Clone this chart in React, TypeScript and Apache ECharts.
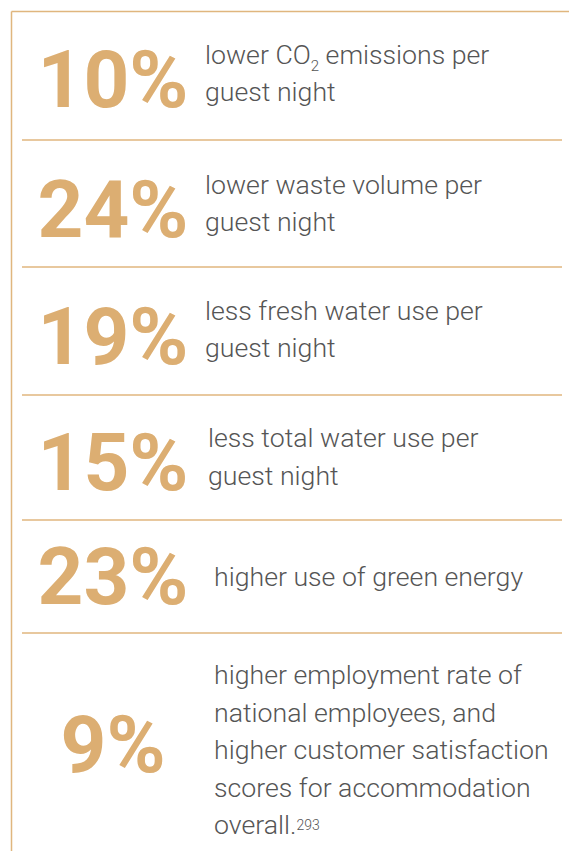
import React, { useEffect, useRef } from "react";
import * as echarts from "echarts";

const percentValues: number[] = [10, 24, 19, 15, 23, 9];
const descriptions: string[] = [
  "lower CO{sub|2} emissions per\nguest night",
  "lower waste volume per\nguest night",
  "less fresh water use per\nguest night",
  "less total water use per\nguest night",
  "higher use of green energy",
  "higher employment rate of\nnational employees, and\nhigher customer satisfaction\nscores for accommodation\noverall.{sup|293}",
];

// layout (not data)
const numberCenterY = [80, 210, 337, 463, 577, 745];
const textX = [205, 205, 205, 208, 214, 214];
const textCenterY = [73.5, 203.5, 329.5, 457, 577, 750];
const separatorY = [140, 267, 395, 520, 633];

const GOLD = "#DCAE72";
const LINE = "#E0B67E";
const GRAY = "#555555";

export default function App() {
  const ref = useRef<HTMLDivElement>(null);
  useEffect(() => {
    if (!ref.current) return;
    const chart = echarts.init(ref.current, undefined, { renderer: "svg" });
    const elements: any[] = [];
    elements.push({
      type: "line",
      shape: { x1: 11.5, y1: 11.5, x2: 569, y2: 11.5 },
      style: { stroke: LINE, lineWidth: 1.5 },
    });
    elements.push({
      type: "line",
      shape: { x1: 11.5, y1: 11.5, x2: 11.5, y2: 851 },
      style: { stroke: LINE, lineWidth: 1.5 },
    });
    separatorY.forEach((y) => {
      elements.push({
        type: "line",
        shape: { x1: 22, y1: y, x2: 562, y2: y },
        style: { stroke: LINE, lineWidth: 1.5 },
      });
    });
    percentValues.forEach((v, i) => {
      elements.push({
        type: "text",
        x: 113,
        y: numberCenterY[i],
        style: {
          text: v + "%",
          fill: GOLD,
          font: "bold 80px Roboto",
          align: "center",
          verticalAlign: "middle",
        },
      });
      elements.push({
        type: "text",
        x: textX[i],
        y: textCenterY[i],
        style: {
          text: descriptions[i],
          fill: GRAY,
          fontFamily: "Roboto",
          fontWeight: 300,
          fontSize: 26.7,
          lineHeight: 37.5,
          align: "left",
          verticalAlign: "middle",
          rich: {
            sub: {
              fontFamily: "Roboto",
              fontWeight: 300,
              fontSize: 15,
              fill: GRAY,
              verticalAlign: "bottom",
              lineHeight: 20,
            },
            sup: {
              fontFamily: "Roboto",
              fontWeight: 300,
              fontSize: 14,
              fill: GRAY,
              verticalAlign: "middle",
              lineHeight: 16,
            },
          },
        },
      });
    });
    chart.setOption({ animation: false, graphic: { elements } });
    return () => chart.dispose();
  }, []);
  return (
    <div
      ref={ref}
      style={{ position: "absolute", left: 0, top: 0, width: 569, height: 851, background: "#fff" }}
    />
  );
}
